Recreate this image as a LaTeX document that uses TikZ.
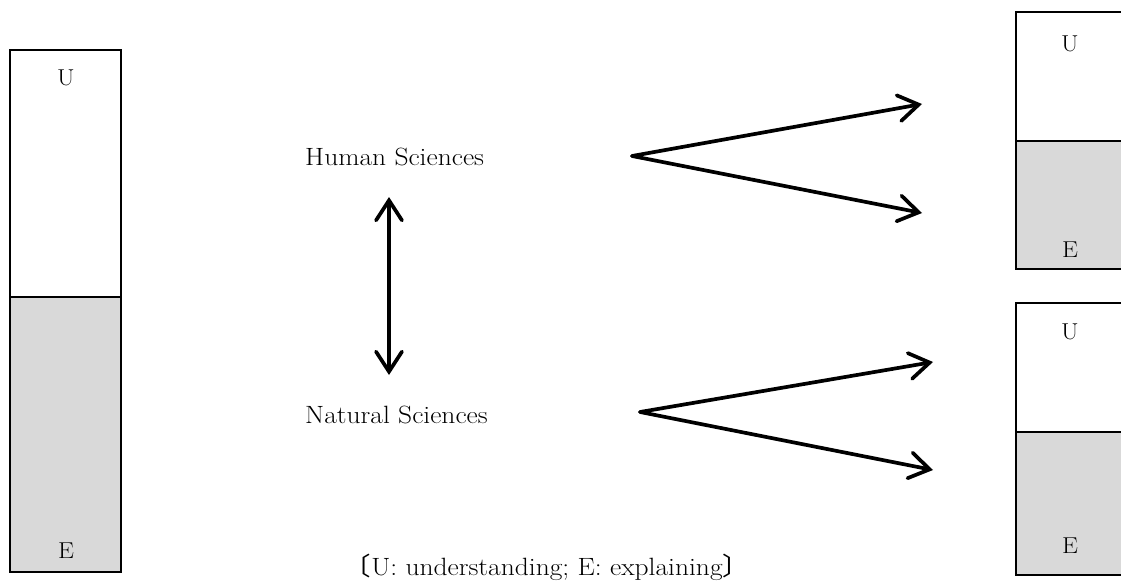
\documentclass[tikz,border=0pt]{standalone}
\usepackage{fontspec}
\newfontfamily\cjkfont{Noto Sans CJK JP}
\usetikzlibrary{arrows.meta}
\definecolor{boxgray}{RGB}{217,217,217}
\newcommand{\widetext}[1]{\scalebox{1.1}[1]{#1}}
\begin{document}
\begin{tikzpicture}[x=1pt,y=-1pt,
  boxline/.style={draw=black,line width=1.8pt},
  boxfill/.style={fill=boxgray},
  lbl/.style={font=\fontsize{25}{30}\selectfont, inner sep=0pt, anchor=base west},
  boxlbl/.style={font=\fontsize{23}{28}\selectfont, inner sep=0pt},
  arr/.style={line width=3.7pt, line cap=round, -{Straight Barb[length=20pt,width=26pt,line cap=round]}},
  darr/.style={line width=3.7pt, line cap=round, {Straight Barb[length=20pt,width=26pt,line cap=round]}-{Straight Barb[length=20pt,width=26pt,line cap=round]}}
]
\useasboundingbox (0,0) rectangle (1121,583);
\clip (0,0) rectangle (1121,583);
% left box
\fill[boxfill] (10,297) rectangle (121,572);
\draw[boxline] (10,50) rectangle (121,572);
\draw[boxline] (10,297) -- (121,297);
\node[boxlbl] (lu) at (66,78) {\widetext{U}};
\node[boxlbl] (le) at (66,551) {\widetext{E}};
% top right box
\fill[boxfill] (1016,141) rectangle (1140,269);
\draw[boxline] (1016,12) rectangle (1140,269);
\draw[boxline] (1016,141) -- (1140,141);
\node[boxlbl] (tu) at (1070,44) {\widetext{U}};
\node[boxlbl] (te) at (1070,250) {\widetext{E}};
% bottom right box
\fill[boxfill] (1016,432) rectangle (1140,575);
\draw[boxline] (1016,303) rectangle (1140,575);
\draw[boxline] (1016,432) -- (1140,432);
\node[boxlbl] (bu) at (1070,332) {\widetext{U}};
\node[boxlbl] (be) at (1070,546) {\widetext{E}};
% labels
\node[lbl] (hs) at (305,165) {\widetext{Human Sciences}};
\node[lbl] (ns) at (305,423) {\widetext{Natural Sciences}};
\node[font=\fontsize{25}{30}\selectfont, inner sep=0pt, anchor=base] (cap) at (547,575)
  {\widetext{{\cjkfont 〔}U: understanding; E: explaining{\cjkfont 〕}}};
% arrows
\coordinate (ta) at (632,156);
\coordinate (tt1) at (922,104);
\coordinate (tt2) at (922,213);
\coordinate (ba) at (640,412);
\coordinate (bt1) at (933,362);
\coordinate (bt2) at (933,470);
\coordinate (vt) at (389,197);
\coordinate (vb) at (389,375);
\draw[arr] (ta) -- (tt1);
\draw[arr] (ta) -- (tt2);
\draw[arr] (ba) -- (bt1);
\draw[arr] (ba) -- (bt2);
\draw[darr] (vb) -- (vt);
\end{tikzpicture}
\end{document}
